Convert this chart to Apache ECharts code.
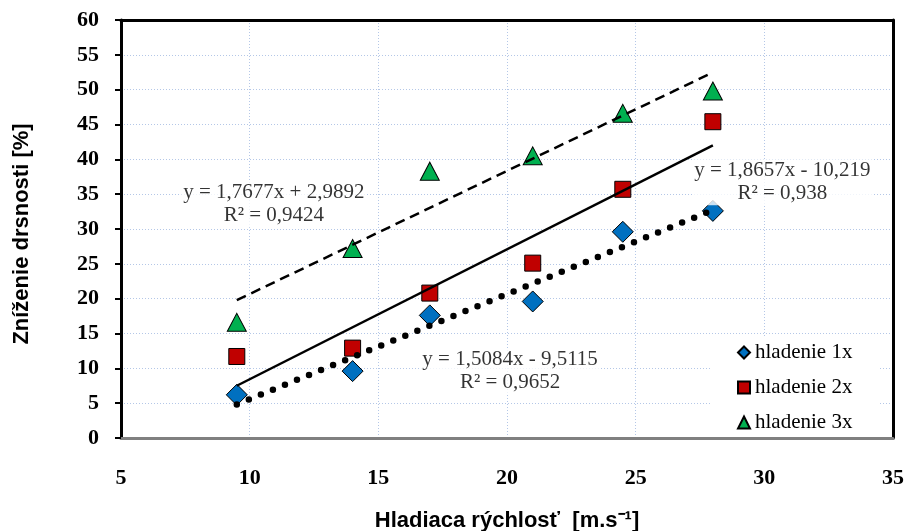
<!DOCTYPE html>
<html>
<head>
<meta charset="utf-8">
<script src="https://cdn.jsdelivr.net/npm/echarts@6/dist/echarts.min.js"></script>
<style>html,body{margin:0;padding:0;background:#fff}#c{width:907px;height:531px}</style>
</head>
<body>
<div id="c"></div>
<script>
// Data
const xVals = [9.5, 14, 17, 21, 24.5, 28];
const seriesNames = ['hladenie 1x', 'hladenie 2x', 'hladenie 3x'];
const s1 = [6.2, 9.6, 17.6, 19.6, 29.6, 32.6];
const s2 = [11.7, 12.9, 20.8, 25.1, 35.7, 45.4];
const s3 = [16.6, 27.2, 38.3, 40.5, 46.6, 49.8];
// Trendline end points (x from 9.5 to 28), as drawn
const trendX = [9.5, 28];
const trend1 = [4.82, 32.72];
const trend2 = [7.50, 42.02];
const trend3 = [19.78, 52.48];
// Equation labels and their anchor positions (data units)
const eqTexts = ['y = 1,5084x - 9,5115\nR² = 0,9652', 'y = 1,8657x - 10,219\nR² = 0,938', 'y = 1,7677x + 2,9892\nR² = 0,9424'];
const eqAnchors = [[20.12, 9.6], [30.70, 36.7], [10.94, 33.55]];
const xTicks = [5, 35, 5];
const yTicks = [0, 60, 5];

const pairs = (xs, ys) => xs.map((x, i) => [x, ys[i]]);
const serif = 'Liberation Serif, Times New Roman, serif';
const sans = 'Liberation Sans, Arial, sans-serif';

const chart = echarts.init(document.getElementById('c'), null, {renderer: 'canvas'});
const gridLine = {show: true, lineStyle: {color: '#b4c7e7', type: [1, 2], width: 1}};
const trendStyle = (ys, style) => ({
  type: 'line', data: pairs(trendX, ys), symbol: 'none', silent: true, z: 5,
  lineStyle: style, legendHoverLink: false
});
chart.setOption({
  animation: false,
  backgroundColor: '#fff',
  grid: {left: 121, top: 20, right: 14, bottom: 93, containLabel: false, outerBoundsMode: 'none'},
  xAxis: [{
    type: 'value', min: xTicks[0], max: xTicks[1], interval: xTicks[2],
    axisLine: {show: true, onZero: false, lineStyle: {color: '#808080', width: 3}},
    axisTick: {show: false},
    axisLabel: {margin: 29, fontFamily: serif, fontWeight: 'bold', fontSize: 22, color: '#000'},
    splitLine: gridLine,
    name: 'Hladiaca rýchlosť  [m.s⁻¹]', nameLocation: 'middle', nameGap: 72,
    nameTextStyle: {fontFamily: sans, fontWeight: 'bold', fontSize: 22, color: '#000'}
  }, {
    type: 'value', position: 'top', min: xTicks[0], max: xTicks[1], interval: xTicks[2],
    axisLine: {show: true, onZero: false, lineStyle: {color: '#000', width: 3}},
    axisTick: {show: false}, axisLabel: {show: false}, splitLine: {show: false}
  }],
  yAxis: [{
    type: 'value', min: yTicks[0], max: yTicks[1], interval: yTicks[2],
    axisLine: {show: true, onZero: false, lineStyle: {color: '#000', width: 3}},
    axisTick: {show: true, length: 6, lineStyle: {color: '#000', width: 2}},
    axisLabel: {margin: 22, fontFamily: serif, fontWeight: 'bold', fontSize: 22, color: '#000'},
    splitLine: gridLine,
    name: 'Zníženie drsnosti [%]', nameLocation: 'middle', nameGap: 88, nameRotate: 90,
    nameTextStyle: {fontFamily: sans, fontWeight: 'bold', fontSize: 22, color: '#000', padding: [0, 10, 0, 0]}
  }, {
    type: 'value', position: 'right', min: yTicks[0], max: yTicks[1], interval: yTicks[2],
    axisLine: {show: true, onZero: false, lineStyle: {color: '#000', width: 3}},
    axisTick: {show: false}, axisLabel: {show: false}, splitLine: {show: false}
  }],
  legend: {
    data: seriesNames, orient: 'vertical', left: 712, top: 338,
    padding: [4, 26, 4, 25], itemGap: 14, itemWidth: 12, itemHeight: 12,
    backgroundColor: '#fff', selectedMode: false,
    textStyle: {fontFamily: serif, fontSize: 21, color: '#000'}
  },
  series: [
    {name: seriesNames[0], type: 'scatter', data: pairs(xVals, s1), symbol: 'diamond', symbolSize: [21, 21], z: 3,
     itemStyle: {color: '#0070c0', borderColor: '#000', borderWidth: 1, opacity: 1}},
    {name: seriesNames[1], type: 'scatter', data: pairs(xVals, s2), symbol: 'rect', symbolSize: [16, 16], z: 3,
     itemStyle: {color: '#c00000', borderColor: '#000', borderWidth: 1, opacity: 1}},
    {name: seriesNames[2], type: 'scatter', data: pairs(xVals, s3), symbol: 'triangle', symbolSize: [19, 18], z: 3,
     itemStyle: {color: '#00b050', borderColor: '#000', borderWidth: 1, opacity: 1}},
    trendStyle(trend1, {color: '#000', width: 6.5, type: [0, 13], cap: 'round'}),
    trendStyle(trend2, {color: '#000', width: 2.5, type: 'solid'}),
    trendStyle(trend3, {color: '#000', width: 2.5, type: [10, 6]}),
    {type: 'scatter', silent: true, z: 6, symbol: 'circle', symbolSize: 1,
     itemStyle: {color: 'rgba(0,0,0,0)'},
     data: eqAnchors.map((p, i) => ({value: p, label: {formatter: eqTexts[i]}})),
     label: {show: true, position: 'inside', fontFamily: serif, fontSize: 21, color: '#000',
             lineHeight: 23, align: 'center', backgroundColor: '#fff', padding: [0, 2]}}
  ]
});
</script>
</body>
</html>
